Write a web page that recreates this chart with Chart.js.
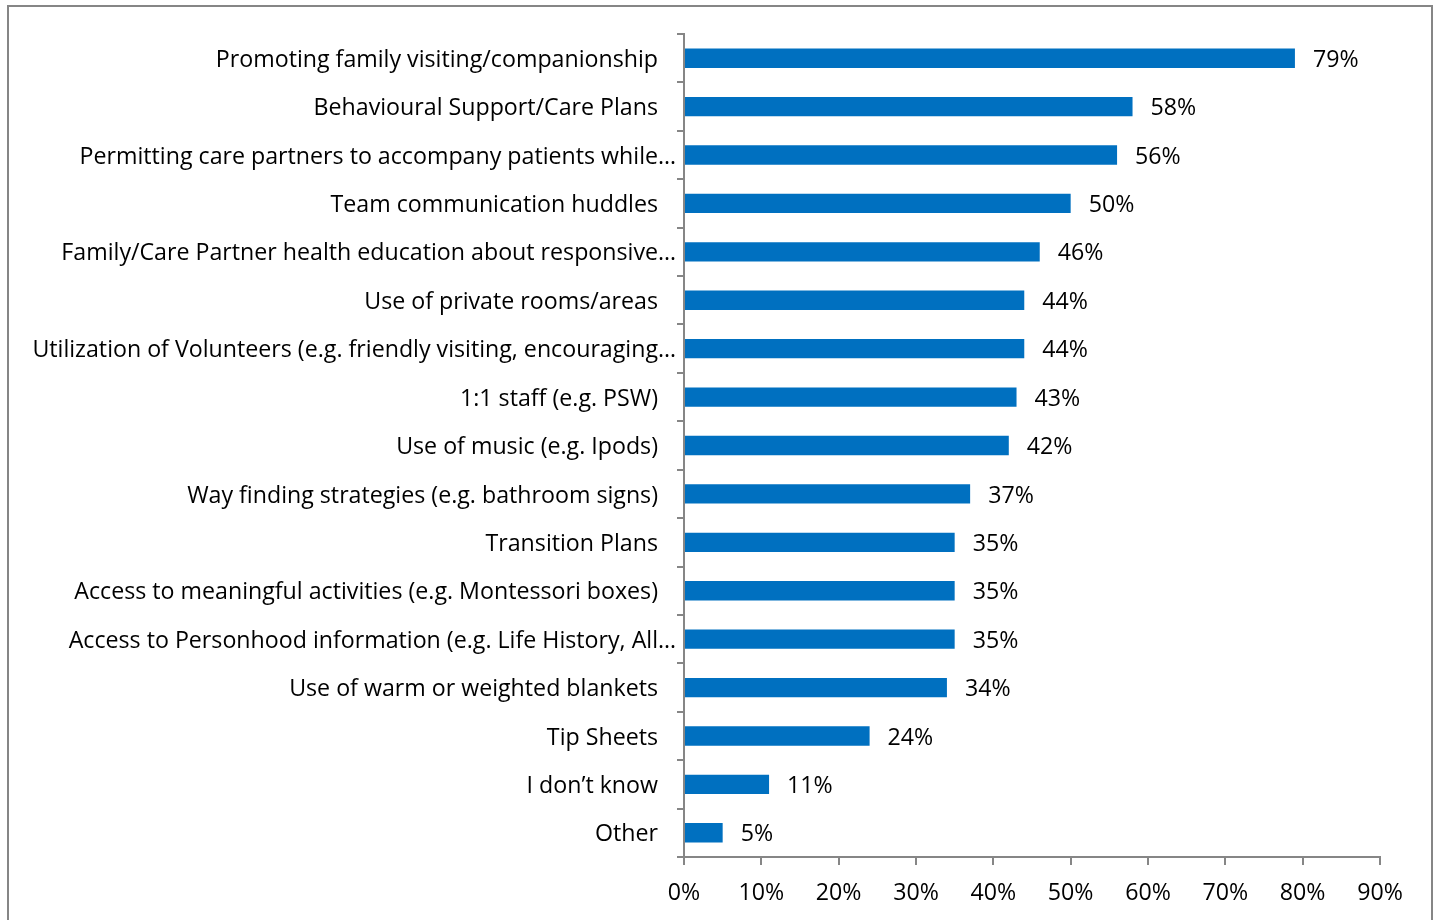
<!DOCTYPE html>
<html>
<head>
<meta charset="utf-8">
<title>Strategies used</title>
<script src="https://cdn.jsdelivr.net/npm/chart.js@4.4.1/dist/chart.umd.min.js"></script>
<style>
  html, body { margin: 0; padding: 0; background: #fff; }
  #wrap { width: 1440px; height: 920px; position: relative; }
</style>
</head>
<body>
<div id="wrap"><canvas id="myChart" width="1440" height="920"></canvas></div>
<script>
var strategies = [
  'Promoting family visiting/companionship',
  'Behavioural Support/Care Plans',
  'Permitting care partners to accompany patients while\u2026',
  'Team communication huddles',
  'Family/Care Partner health education about responsive\u2026',
  'Use of private rooms/areas',
  'Utilization of Volunteers (e.g. friendly visiting, encouraging\u2026',
  '1:1 staff (e.g. PSW)',
  'Use of music (e.g. Ipods)',
  'Way finding strategies (e.g. bathroom signs)',
  'Transition Plans',
  'Access to meaningful activities (e.g. Montessori boxes)',
  'Access to Personhood information (e.g. Life History, All\u2026',
  'Use of warm or weighted blankets',
  'Tip Sheets',
  'I don\u2019t know',
  'Other'
];
var percents = [79, 58, 56, 50, 46, 44, 44, 43, 42, 37, 35, 35, 35, 34, 24, 11, 5];
var axisMax = 90;
var axisStep = 10;

var FONT = '"Open Sans", "Noto Sans", sans-serif';
var FONT_SIZE = 23.2;
var GREY = '#868686';

// outer frame of the chart
var framePlugin = {
  id: 'frame',
  beforeDraw: function(chart) {
    var ctx = chart.ctx;
    ctx.save();
    ctx.fillStyle = '#fff';
    ctx.fillRect(0, 0, chart.width, chart.height);
    ctx.strokeStyle = GREY;
    ctx.lineWidth = 2;
    ctx.strokeRect(8, 6, 1424, 1000);
    ctx.restore();
  }
};

// category names: right aligned, a trailing ellipsis hangs past the edge
var catLabels = {
  id: 'catLabels',
  afterDraw: function(chart) {
    var ctx = chart.ctx;
    var y = chart.scales.y;
    var edge = chart.chartArea.left - 26;
    ctx.save();
    ctx.font = FONT_SIZE + 'px ' + FONT;
    ctx.fillStyle = '#000';
    ctx.textBaseline = 'middle';
    strategies.forEach(function(name, i) {
      var py = y.getPixelForValue(i) + 2;
      var cut = name.charAt(name.length - 1) === '\u2026';
      var text = cut ? name.slice(0, -1) : name;
      ctx.textAlign = 'right';
      ctx.fillText(text, edge, py);
      if (cut) {
        ctx.textAlign = 'left';
        ctx.fillText('\u2026', edge, py);
      }
    });
    ctx.restore();
  }
};

// percentage next to each bar
var valueLabels = {
  id: 'valueLabels',
  afterDatasetsDraw: function(chart) {
    var ctx = chart.ctx;
    var meta = chart.getDatasetMeta(0);
    ctx.save();
    ctx.font = FONT_SIZE + 'px ' + FONT;
    ctx.fillStyle = '#000';
    ctx.textAlign = 'left';
    ctx.textBaseline = 'middle';
    meta.data.forEach(function(bar, i) {
      ctx.fillText(percents[i] + '%', bar.x + 18, bar.y + 2);
    });
    ctx.restore();
  }
};

var ctx = document.getElementById('myChart');

new Chart(ctx, {
  type: 'bar',
  data: {
    labels: strategies,
    datasets: [{
      data: percents,
      backgroundColor: '#0070C0',
      borderWidth: 0,
      barPercentage: 0.4,
      categoryPercentage: 1
    }]
  },
  options: {
    indexAxis: 'y',
    responsive: false,
    animation: false,
    events: [],
    layout: { padding: { left: 0, top: 34, right: 60, bottom: 0 } },
    plugins: {
      legend: { display: false },
      tooltip: { enabled: false }
    },
    scales: {
      x: {
        min: 0,
        max: axisMax,
        afterFit: function(scale) { scale.height = 63; },
        ticks: {
          stepSize: axisStep,
          color: '#000',
          padding: 14,
          font: { family: FONT, size: FONT_SIZE },
          callback: function(v) { return v + '%'; }
        },
        grid: {
          drawOnChartArea: false,
          drawTicks: true,
          tickLength: 8,
          color: GREY,
          lineWidth: 2
        },
        border: { display: true, color: GREY, width: 2 }
      },
      y: {
        afterFit: function(scale) { scale.width = 684; },
        ticks: { display: false },
        grid: {
          offset: true,
          drawOnChartArea: false,
          drawTicks: true,
          tickLength: 7,
          color: GREY,
          lineWidth: 2
        },
        border: { display: true, color: GREY, width: 2 }
      }
    }
  },
  plugins: [framePlugin, catLabels, valueLabels]
});
</script>
</body>
</html>
